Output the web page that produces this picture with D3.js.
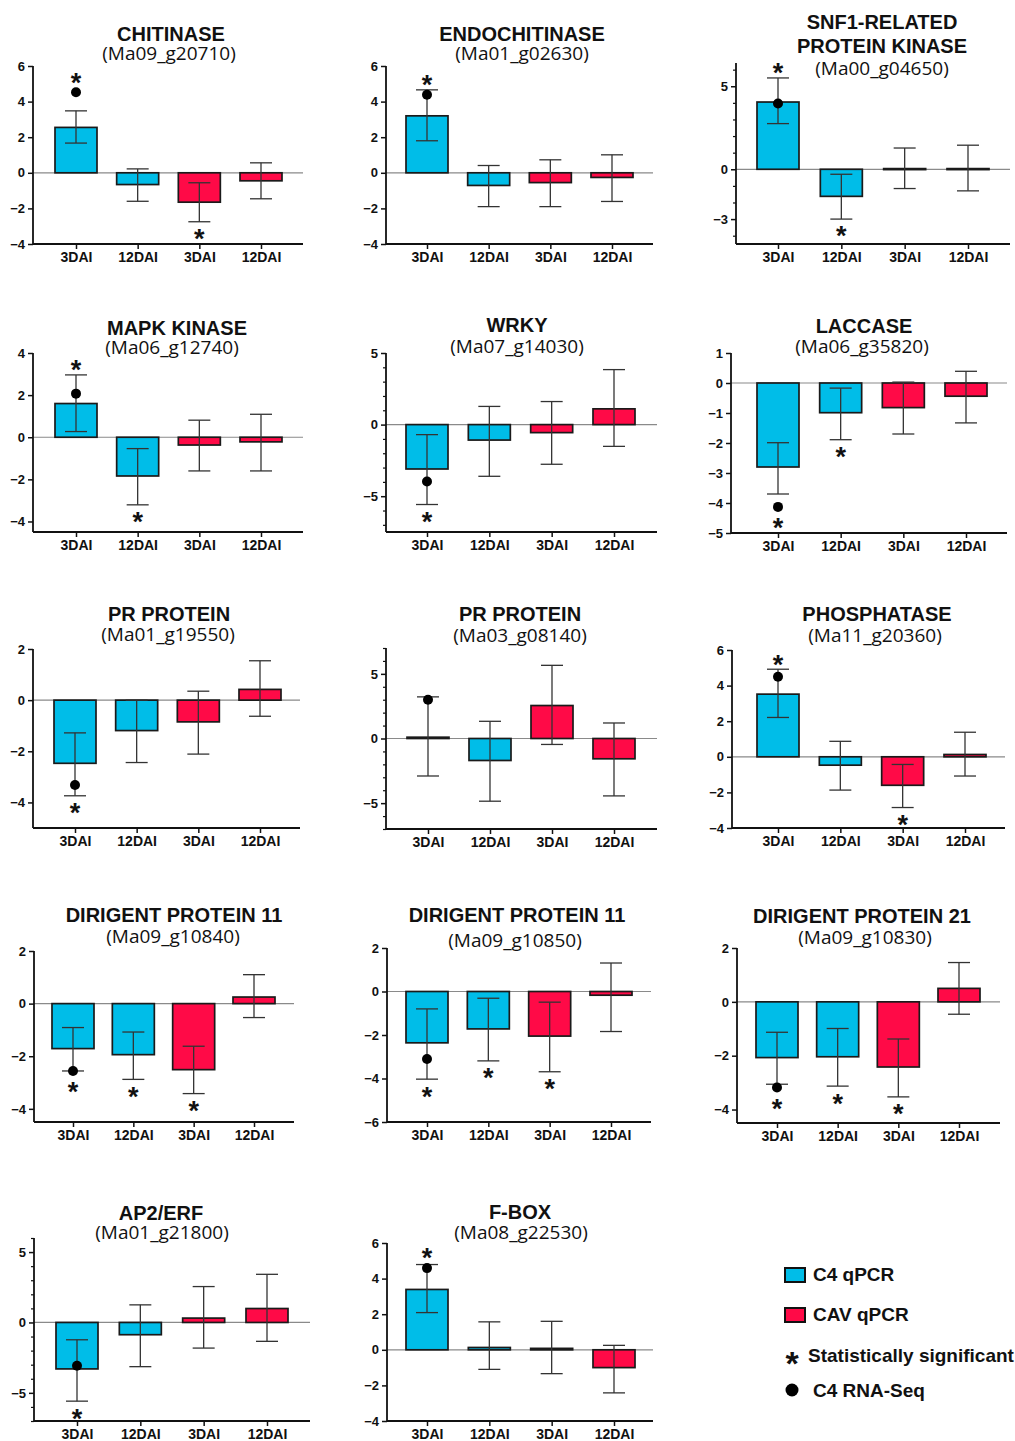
<!DOCTYPE html>
<html><head><meta charset="utf-8">
<script src="https://cdn.jsdelivr.net/npm/d3@7"></script>
<style>
body{margin:0;background:#fff}
svg text{font-family:"Liberation Sans",Arial,sans-serif}
</style>
</head><body>
<svg id="chart" width="1015" height="1441"></svg>
<script>
// ---------------- DATA ----------------
const titles = [
  ["CHITINASE"], ["ENDOCHITINASE"], ["SNF1-RELATED","PROTEIN KINASE"],
  ["MAPK KINASE"], ["WRKY"], ["LACCASE"],
  ["PR PROTEIN"], ["PR PROTEIN"], ["PHOSPHATASE"],
  ["DIRIGENT PROTEIN 11"], ["DIRIGENT PROTEIN 11"], ["DIRIGENT PROTEIN 21"],
  ["AP2/ERF"], ["F-BOX"]
];
const geneIds = [
  "(Ma09_g20710)", "(Ma01_g02630)", "(Ma00_g04650)",
  "(Ma06_g12740)", "(Ma07_g14030)", "(Ma06_g35820)",
  "(Ma01_g19550)", "(Ma03_g08140)", "(Ma11_g20360)",
  "(Ma09_g10840)", "(Ma09_g10850)", "(Ma09_g10830)",
  "(Ma01_g21800)", "(Ma08_g22530)"
];
const categories = ["3DAI","12DAI","3DAI","12DAI"];
const barSeries = [0, 0, 1, 1];           // 0 = C4 qPCR, 1 = CAV qPCR
const seriesNames = ["C4 qPCR", "CAV qPCR"];
const seriesColors = ["#00BDE8", "#FF0A47"];

const means = [
  [2.55, -0.66, -1.65, -0.45],
  [3.2, -0.71, -0.55, -0.26],
  [4.05, -1.63, 0.04, 0.04],
  [1.6, -1.84, -0.37, -0.22],
  [-3.1, -1.08, -0.56, 1.1],
  [-2.8, -0.99, -0.82, -0.44],
  [-2.47, -1.19, -0.85, 0.42],
  [0.1, -1.7, 2.55, -1.57],
  [3.52, -0.47, -1.6, 0.13],
  [-1.71, -1.94, -2.51, 0.25],
  [-2.36, -1.72, -2.05, -0.17],
  [-2.07, -2.04, -2.42, 0.5],
  [-3.3, -0.87, 0.31, 0.99],
  [3.39, 0.13, 0.08, -1.0]
];
const errLow = [
  [1.67, -1.6, -2.75, -1.46],
  [1.8, -1.9, -1.9, -1.61],
  [2.75, -3.0, -1.16, -1.3],
  [0.27, -3.21, -1.6, -1.6],
  [-5.58, -3.61, -2.77, -1.52],
  [-3.7, -1.89, -1.7, -1.33],
  [-3.74, -2.44, -2.11, -0.63],
  [-2.9, -4.85, -0.46, -4.44],
  [2.21, -1.87, -2.85, -1.08],
  [-2.56, -2.88, -3.42, -0.53],
  [-4.03, -3.19, -3.69, -1.84],
  [-3.06, -3.13, -3.53, -0.46],
  [-5.59, -3.14, -1.82, -1.34],
  [2.09, -1.1, -1.34, -2.42]
];
const errHigh = [
  [3.48, 0.22, -0.56, 0.56],
  [4.66, 0.41, 0.73, 1.01],
  [5.5, -0.3, 1.28, 1.45],
  [2.96, -0.54, 0.81, 1.09],
  [-0.7, 1.27, 1.61, 3.84],
  [-1.99, -0.17, 0.03, 0.39],
  [-1.28, 0.0, 0.35, 1.54],
  [3.22, 1.33, 5.66, 1.2],
  [4.92, 0.87, -0.43, 1.38],
  [-0.91, -1.08, -1.62, 1.1],
  [-0.8, -0.31, -0.49, 1.31],
  [-1.13, -0.99, -1.38, 1.46],
  [-1.23, 1.25, 2.55, 3.42],
  [4.79, 1.57, 1.6, 0.25]
];
// C4 RNA-Seq value (first bar of each gene)
const rnaSeq = [4.53, 4.38, 3.96, 2.07, -3.97, -4.13, -3.32, 3.0, 4.5, -2.56, -3.1, -3.18, -3.07, 4.59];
const significant = [
  [1,0,1,0],[1,0,0,0],[1,1,0,0],
  [1,1,0,0],[1,0,0,0],[1,1,0,0],
  [1,0,0,0],[0,0,0,0],[1,0,1,0],
  [1,1,1,0],[1,1,1,0],[1,1,1,0],
  [1,0,0,0],[1,0,0,0]
];
const yDomains = [
  [-4,6],[-4,6],[-4.5,6.4],
  [-4.5,4],[-7.5,5],[-5,1],
  [-5,2],[-7,7],[-4,6],
  [-4.5,2],[-6,2],[-4.5,2],
  [-7,6],[-4,6]
];
const yTicks = [
  [-4,-2,0,2,4,6],[-4,-2,0,2,4,6],[-3,0,5],
  [-4,-2,0,2,4],[-5,0,5],[-5,-4,-3,-2,-1,0,1],
  [-4,-2,0,2],[-5,0,5],[-4,-2,0,2,4,6],
  [-4,-2,0,2],[-6,-4,-2,0,2],[-4,-2,0,2],
  [-5,0,5],[-4,-2,0,2,4,6]
];
const hasMinor = [false,false,true, false,true,false, false,true,false, false,false,false, true,false];
const legendItems = ["C4 qPCR","CAV qPCR","Statistically significant","C4 RNA-Seq"];

// ---------------- LAYOUT ----------------
// x0: y-axis x, x1: x-axis end, c0/c3: first/last bar centre, yTop/yBot: axis range
const layout = [
  {x0:33, x1:303, c0:76, c3:261, yTop:66, yBot:244, tcx:171, scx:169, tY:[41], sY:60},
  {x0:386, x1:653, c0:427, c3:612, yTop:66, yBot:244, tcx:522, scx:522, tY:[41], sY:60},
  {x0:736, x1:1010, c0:778, c3:968, yTop:63, yBot:244, tcx:882, scx:882, tY:[29,53], sY:75},
  {x0:33, x1:303, c0:76, c3:261, yTop:353, yBot:532, tcx:177, scx:172, tY:[335], sY:354},
  {x0:386, x1:657, c0:427, c3:614, yTop:353, yBot:532, tcx:517, scx:517, tY:[332], sY:353},
  {x0:731, x1:1007, c0:778, c3:966, yTop:353, yBot:533, tcx:864, scx:862, tY:[333], sY:353},
  {x0:33, x1:300, c0:75, c3:260, yTop:649, yBot:828, tcx:169, scx:168, tY:[621], sY:641},
  {x0:386, x1:657, c0:428, c3:614, yTop:648, yBot:829, tcx:520, scx:520, tY:[621], sY:642},
  {x0:732, x1:1005, c0:778, c3:965, yTop:650, yBot:828, tcx:877, scx:875, tY:[621], sY:642},
  {x0:34, x1:294, c0:73, c3:254, yTop:951, yBot:1122, tcx:174, scx:173, tY:[922], sY:943},
  {x0:387, x1:651, c0:427, c3:611, yTop:948, yBot:1122, tcx:517, scx:515, tY:[922], sY:947},
  {x0:737, x1:1000, c0:777, c3:959, yTop:948, yBot:1123, tcx:862, scx:865, tY:[923], sY:944},
  {x0:34, x1:310, c0:77, c3:267, yTop:1238, yBot:1421, tcx:161, scx:162, tY:[1220], sY:1239},
  {x0:387, x1:653, c0:427, c3:614, yTop:1243, yBot:1421, tcx:520, scx:521, tY:[1219], sY:1239}
];
const BAR_W = 42, CAP = 11;

// ---------------- DRAW ----------------
const svg = d3.select("#chart");
svg.append("rect").attr("width",1015).attr("height",1441).attr("fill","#fff");

function star(g, x, cy, size) {
  g.append("text").attr("x", x).attr("y", cy + size*0.57)
    .attr("text-anchor","middle").attr("font-weight","bold")
    .attr("font-size", size).attr("fill","#111").text("*");
}

titles.forEach((tl, i) => {
  const L = layout[i];
  const g = svg.append("g");
  const y = d3.scaleLinear().domain(yDomains[i]).range([L.yBot, L.yTop]);
  const x = d3.scalePoint().domain(d3.range(4)).range([L.c0, L.c3]);

  // titles
  tl.forEach((t, k) => {
    g.append("text").attr("x", L.tcx).attr("y", L.tY[k]).attr("text-anchor","middle")
      .attr("font-weight","bold").attr("font-size",20).attr("fill","#111").text(t);
  });
  g.append("text").attr("x", L.scx).attr("y", L.sY).attr("text-anchor","middle")
    .attr("font-size",19).attr("fill","#111")
    .style("font-family","'Open Sans',sans-serif").text(geneIds[i]);

  // zero line
  g.append("line").attr("x1", L.x0).attr("x2", L.x1).attr("y1", y(0)).attr("y2", y(0))
    .attr("stroke","#8a8a8a").attr("stroke-width",1.2);

  // bars
  const idx = d3.range(4);
  g.selectAll("rect.bar").data(idx).join("rect").attr("class","bar")
    .attr("x", j => x(j) - BAR_W/2)
    .attr("y", j => Math.min(y(means[i][j]), y(0)))
    .attr("width", BAR_W)
    .attr("height", j => Math.max(1, Math.abs(y(means[i][j]) - y(0))))
    .attr("fill", j => seriesColors[barSeries[j]])
    .attr("stroke","#1a1a1a").attr("stroke-width",1.7);

  // error bars
  idx.forEach(j => {
    const xc = x(j), lo = y(errLow[i][j]), hi = y(errHigh[i][j]);
    g.append("line").attr("x1",xc).attr("x2",xc).attr("y1",lo).attr("y2",hi)
      .attr("stroke","#333").attr("stroke-width",1.3);
    [lo, hi].forEach(yy => g.append("line").attr("x1",xc-CAP).attr("x2",xc+CAP)
      .attr("y1",yy).attr("y2",yy).attr("stroke","#333").attr("stroke-width",1.3));
  });

  // RNA-seq dot
  const dotY = y(rnaSeq[i]);
  g.append("circle").attr("cx", x(0)).attr("cy", dotY).attr("r",5).attr("fill","#000");

  // significance stars
  idx.forEach(j => {
    if (!significant[i][j]) return;
    const pos = means[i][j] > 0;
    let ext;
    if (pos) {
      ext = y(errHigh[i][j]);
      if (j === 0) ext = Math.min(ext, dotY - 5);
      star(g, x(j), ext - 11, 27);
    } else {
      ext = y(errLow[i][j]);
      if (j === 0) ext = Math.max(ext, dotY + 4);
      star(g, x(j), ext + 11, 27);
    }
  });

  // y axis
  const ya = g.append("g").attr("transform",`translate(${L.x0},0)`)
    .call(d3.axisLeft(y).tickValues(yTicks[i]).tickSize(5).tickSizeOuter(0)
      .tickPadding(3).tickFormat(d3.format("d")));
  ya.select(".domain").attr("stroke","#111").attr("stroke-width",1.8)
    .attr("d", `M0,${L.yBot}V${L.yTop}`);
  ya.selectAll(".tick line").attr("stroke","#111").attr("stroke-width",1.5);
  ya.selectAll(".tick text").attr("font-size",13).attr("font-weight","bold").attr("fill","#111")
    .style("font-family","'Liberation Sans',Arial,sans-serif");
  if (hasMinor[i]) {
    const minors = d3.range(Math.ceil(yDomains[i][0]), Math.floor(yDomains[i][1]) + 1)
      .filter(v => !yTicks[i].includes(v));
    const ma = g.append("g").attr("transform",`translate(${L.x0},0)`)
      .call(d3.axisLeft(y).tickValues(minors).tickSize(3).tickFormat(""));
    ma.select(".domain").remove();
    ma.selectAll(".tick line").attr("stroke","#111").attr("stroke-width",1.2);
  }

  // x axis
  g.append("line").attr("x1", L.x0).attr("x2", L.x1).attr("y1", L.yBot).attr("y2", L.yBot)
    .attr("stroke","#111").attr("stroke-width",1.8);
  const xa = g.append("g").attr("transform",`translate(0,${L.yBot})`)
    .call(d3.axisBottom(x).tickSize(5).tickPadding(3).tickFormat(j => categories[j]));
  xa.select(".domain").remove();
  xa.selectAll(".tick line").attr("stroke","#111").attr("stroke-width",1.5);
  xa.selectAll(".tick text").attr("font-size",14).attr("font-weight","bold").attr("fill","#111")
    .style("font-family","'Liberation Sans',Arial,sans-serif");
});

// ---------------- LEGEND ----------------
const lg = svg.append("g");
[0,1].forEach(k => {
  const yy = 1268 + k*40;
  lg.append("rect").attr("x",785).attr("y",yy).attr("width",20).attr("height",14)
    .attr("fill",seriesColors[k]).attr("stroke","#111").attr("stroke-width",2);
  lg.append("text").attr("x",813).attr("y",yy+13).attr("font-size",19).attr("font-weight","bold")
    .attr("fill","#111").text(legendItems[k]);
});
star(lg, 792, 1356, 34);
lg.append("text").attr("x",808).attr("y",1362).attr("font-size",19).attr("font-weight","bold")
  .attr("fill","#111").text(legendItems[2]);
lg.append("circle").attr("cx",792).attr("cy",1390).attr("r",6.5).attr("fill","#000");
lg.append("text").attr("x",813).attr("y",1397).attr("font-size",19).attr("font-weight","bold")
  .attr("fill","#111").text(legendItems[3]);
</script>
</body></html>
